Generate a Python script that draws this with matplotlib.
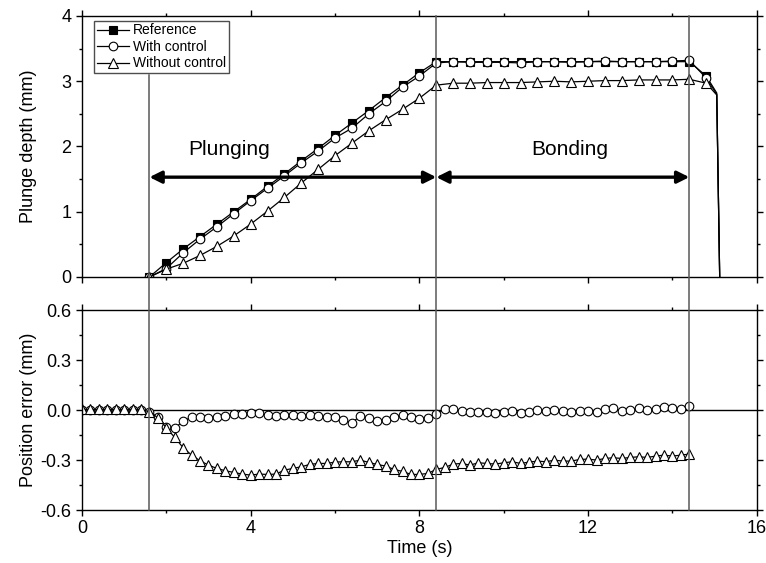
import numpy as np
import matplotlib
matplotlib.use('Agg')
import matplotlib.pyplot as plt
from matplotlib.lines import Line2D
from matplotlib.ticker import MultipleLocator
import matplotlib.transforms as mtransforms

plt.rcParams['font.family'] = ['Liberation Sans', 'DejaVu Sans']
plt.rcParams['axes.unicode_minus'] = False

# ---- data ----
# top plot: samples every 0.4 s from 1.6 s to 14.8 s
t_top = [1.6, 2.0, 2.4, 2.8, 3.2, 3.6, 4.0, 4.4, 4.8, 5.2, 5.6, 6.0, 6.4, 6.8,
         7.2, 7.6, 8.0, 8.4, 8.8, 9.2, 9.6, 10.0, 10.4, 10.8, 11.2, 11.6, 12.0,
         12.4, 12.8, 13.2, 13.6, 14.0, 14.4, 14.8]
ref_depth = [0.0, 0.22, 0.43, 0.62, 0.81, 1.00, 1.19, 1.39, 1.58, 1.78, 1.97, 2.17,
             2.36, 2.55, 2.75, 2.94, 3.13, 3.30, 3.30, 3.30, 3.30, 3.30, 3.30, 3.30,
             3.30, 3.30, 3.30, 3.30, 3.30, 3.30, 3.30, 3.30, 3.30, 3.08]
with_depth = [0.0, 0.13, 0.37, 0.58, 0.77, 0.97, 1.17, 1.36, 1.55, 1.75, 1.93, 2.13,
              2.28, 2.50, 2.69, 2.91, 3.08, 3.28, 3.30, 3.29, 3.29, 3.29, 3.28, 3.30,
              3.30, 3.29, 3.30, 3.31, 3.30, 3.30, 3.30, 3.31, 3.32, 3.05]
without_depth = [0.0, 0.12, 0.21, 0.33, 0.47, 0.63, 0.81, 1.01, 1.22, 1.44, 1.65, 1.86,
                 2.05, 2.24, 2.41, 2.57, 2.74, 2.94, 2.97, 2.97, 2.98, 2.98, 2.98, 2.99,
                 3.00, 2.99, 3.00, 3.01, 3.01, 3.02, 3.02, 3.02, 3.03, 2.97]
# retract at the end (no markers)
t_tail = [15.05, 15.12]
ref_tail = [2.82, 0.0]
with_tail = [2.80, 0.0]
without_tail = [2.79, 0.0]

# bottom plot: samples every 0.2 s from 0 to 14.4 s
t_err = np.round(np.arange(0, 14.41, 0.2), 1)
with_err = [0, 0, 0, 0, 0, 0, 0, 0,
            -0.014, -0.04, -0.10, -0.11, -0.064, -0.044, -0.04, -0.05, -0.04, -0.036,
            -0.026, -0.024, -0.02, -0.016, -0.03, -0.034, -0.03, -0.03, -0.034, -0.03,
            -0.036, -0.04, -0.04, -0.06, -0.076, -0.034, -0.046, -0.064, -0.06, -0.04,
            -0.03, -0.044, -0.054, -0.046, -0.024, 0.004, 0.004, -0.004, -0.01, -0.01,
            -0.01, -0.016, -0.014, -0.004, -0.02, -0.014, 0.0, -0.004, 0.0, -0.006,
            -0.01, -0.004, -0.004, -0.014, 0.004, 0.01, -0.006, 0.0, 0.014, 0.0,
            0.004, 0.016, 0.01, 0.004, 0.026]
without_err = [0.004, 0.004, 0.004, 0.004, 0.004, 0.004, 0.004, 0.004,
               -0.01, -0.046, -0.106, -0.164, -0.226, -0.27, -0.304, -0.33, -0.35, -0.364,
               -0.374, -0.384, -0.39, -0.384, -0.386, -0.384, -0.36, -0.35, -0.34, -0.326,
               -0.32, -0.32, -0.312, -0.31, -0.31, -0.30, -0.314, -0.326, -0.336, -0.356,
               -0.368, -0.386, -0.386, -0.38, -0.356, -0.344, -0.324, -0.32, -0.33, -0.316,
               -0.32, -0.324, -0.316, -0.31, -0.32, -0.312, -0.306, -0.31, -0.30, -0.306,
               -0.306, -0.296, -0.294, -0.30, -0.29, -0.286, -0.29, -0.284, -0.28, -0.284,
               -0.276, -0.27, -0.276, -0.27, -0.264]

phase_marks = [1.6, 8.4, 14.4]

fig = plt.figure(figsize=(7.66, 5.63), dpi=100)
ax1 = fig.add_axes([0.107, 0.508, 0.881, 0.4636])
ax2 = fig.add_axes([0.107, 0.094, 0.881, 0.355])

mk = dict(color='black', lw=0.9, markeredgecolor='black', markeredgewidth=0.8)
n = len(t_top)
ax1.plot(t_top + t_tail, ref_depth + ref_tail, marker='s', markersize=5.5,
         markerfacecolor='black', markevery=slice(0, n), label='Reference', **mk)
ax1.plot(t_top + t_tail, with_depth + with_tail, marker='o', markersize=6.2,
         markerfacecolor='white', markevery=slice(0, n), label='With control', **mk)
ax1.plot(t_top + t_tail, without_depth + without_tail, marker='^', markersize=7,
         markerfacecolor='white', markevery=slice(0, n), label='Without control', **mk)

ax2.plot([0, 16], [0, 0], color='black', lw=1)
ax2.plot(t_err, with_err, marker='o', markersize=6.2, markerfacecolor='white', **mk)
ax2.plot(t_err, without_err, marker='^', markersize=7, markerfacecolor='white', **mk)

# arrows and phase labels
arrow = dict(arrowstyle='<|-|>', color='black', lw=2.4, mutation_scale=18,
             shrinkA=0, shrinkB=0)
ax1.annotate('', xy=(phase_marks[0], 1.53), xytext=(phase_marks[1], 1.53), arrowprops=arrow)
ax1.annotate('', xy=(phase_marks[1], 1.53), xytext=(phase_marks[2], 1.53), arrowprops=arrow)
ax1.text(3.5, 1.96, 'Plunging', fontsize=15, ha='center', va='center')
ax1.text(11.57, 1.96, 'Bonding', fontsize=15, ha='center', va='center')

for ax in (ax1, ax2):
    ax.set_xlim(0, 16)
    ax.xaxis.set_major_locator(MultipleLocator(4))
    ax.xaxis.set_minor_locator(MultipleLocator(2))
    ax.tick_params(which='both', direction='out', top=True, right=True,
                   labelsize=13, width=1)
    ax.tick_params(which='major', length=4)
    ax.tick_params(which='minor', length=2.4)
    for s in ax.spines.values():
        s.set_linewidth(1)

ax1.set_ylim(0, 4)
ax1.yaxis.set_major_locator(MultipleLocator(1))
ax1.yaxis.set_minor_locator(MultipleLocator(0.5))
ax1.tick_params(labelbottom=False)
ax1.set_ylabel('Plunge depth (mm)', fontsize=13)
ax1.yaxis.set_label_coords(-0.066, 0.5)

ax2.set_ylim(-0.6, 0.6)
ax2.yaxis.set_major_locator(MultipleLocator(0.3))
ax2.yaxis.set_minor_locator(MultipleLocator(0.15))
ax2.yaxis.set_major_formatter(matplotlib.ticker.FormatStrFormatter('%.1f'))
ax2.set_ylabel('Position error (mm)', fontsize=13)
ax2.yaxis.set_label_coords(-0.066, 0.5)
ax2.set_xlabel('Time (s)', fontsize=13, labelpad=2)

leg = ax1.legend(loc='upper left', bbox_to_anchor=(0.018, 0.982), borderaxespad=0,
                 fontsize=10, handlelength=2.3, handletextpad=0.3, labelspacing=0.18,
                 borderpad=0.2, fancybox=False, framealpha=1)
leg.get_frame().set_edgecolor('0.3')
leg.get_frame().set_linewidth(1)

# vertical phase lines spanning both panels
trans = mtransforms.blended_transform_factory(ax1.transData, fig.transFigure)
tops = [0.508 + 3.1 / 4 * 0.4636, 0.9716, 0.9716]
for x, top in zip(phase_marks, tops):
    fig.add_artist(Line2D([x, x], [0.094, top], transform=trans, color='0.35', lw=1.1))

fig.savefig('out.png', dpi=100)
